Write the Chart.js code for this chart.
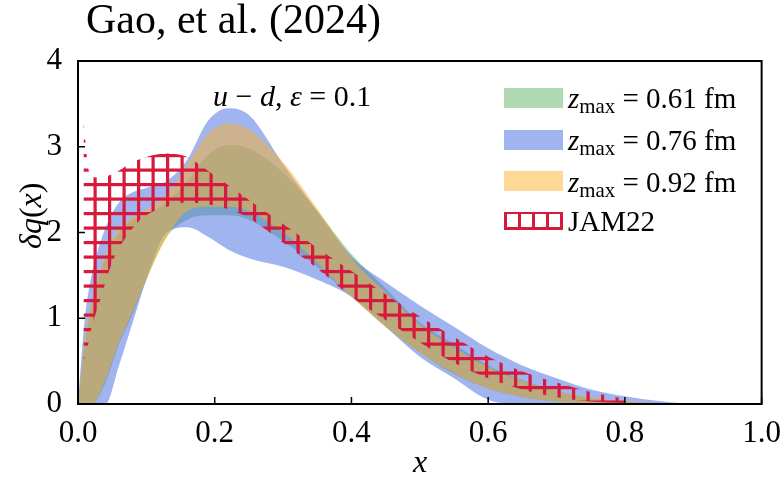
<!DOCTYPE html>
<html>
<head>
<meta charset="utf-8">
<script src="https://cdn.jsdelivr.net/npm/chart.js@4.4.1/dist/chart.umd.min.js"></script>
<style>
    body { margin: 0; background: #fff; }
    #wrap { position: relative; width: 784px; height: 477px; font-family: "Liberation Serif", "Times New Roman", serif; color: #000; }
    #wrap canvas { position: absolute; left: 0; top: 0; }
    .txt { position: absolute; white-space: nowrap; line-height: 1; }
    .sw { position: absolute; left: 504px; width: 59px; height: 20px; }
    sub { font-size: 0.72em; vertical-align: -0.25em; font-style: normal; line-height: 0; }
</style>
</head>
<body>
<div id="wrap">
    <canvas id="pdfChart" width="784" height="477"></canvas>
    <div class="txt" style="left:86px; top:-2px; font-size:42px;">Gao, et al. (2024)</div>
    <div class="txt" style="left:213px; top:81px; font-size:30px;"><i>u</i> − <i>d</i>, <i>ε</i> = 0.1</div>
    <div class="txt" style="left:14px; top:233px; font-size:32px; transform: translate(0,-50%) rotate(-90deg); transform-origin: 16px 50%;"><i>δq</i>(<i>x</i>)</div>
    <div class="txt" style="left:413px; top:445px; font-size:32px;"><i>x</i></div>

    <div class="sw" style="top:88px; background: rgba(100,180,100,0.5);"></div>
    <div class="sw" style="top:130px; background: rgba(65,105,225,0.5);"></div>
    <div class="sw" style="top:171px; background: rgba(251,177,45,0.5);"></div>
    <div class="sw" style="top:212px; height:13px; border-top:2px solid #d7193c; border-bottom:3px solid #d7193c;
        background: repeating-linear-gradient(90deg, #d7193c 0 3px, transparent 3px 14px);"></div>
    <div class="txt" style="left:568px; top:84px; font-size:29px;"><i>z</i><sub>max</sub> = 0.61 fm</div>
    <div class="txt" style="left:568px; top:126px; font-size:29px;"><i>z</i><sub>max</sub> = 0.76 fm</div>
    <div class="txt" style="left:568px; top:168px; font-size:29px;"><i>z</i><sub>max</sub> = 0.92 fm</div>
    <div class="txt" style="left:568px; top:207px; font-size:29px;">JAM22</div>
</div>
<script>
// x grid shared by the three lattice bands
const xBand = [0, 0.01, 0.02, 0.04, 0.06, 0.08, 0.1, 0.13, 0.16, 0.19, 0.22, 0.25, 0.3, 0.35, 0.4, 0.45, 0.5, 0.55, 0.6, 0.65, 0.7, 0.75, 0.8, 0.85, 0.9, 1.0];

// z_max = 0.61 fm (green)
const green_lo = [0, 0, 0, 0.25, 0.7, 1.05, 1.45, 1.95, 2.15, 2.2, 2.2, 2.15, 1.9, 1.6, 1.25, 0.9, 0.6, 0.35, 0.18, 0.08, 0.03, 0.01, 0, 0, 0, 0];
const green_hi = [0, 0.7, 1.15, 1.7, 2.0, 2.15, 2.22, 2.35, 2.6, 2.9, 3.02, 2.98, 2.7, 2.25, 1.75, 1.35, 0.95, 0.7, 0.45, 0.28, 0.15, 0.07, 0.03, 0.01, 0, 0];

// z_max = 0.76 fm (blue)
const blue_lo = [0, 0, 0, 0, 0.45, 0.95, 1.45, 2.0, 2.06, 1.95, 1.8, 1.7, 1.6, 1.45, 1.25, 0.9, 0.55, 0.3, 0.05, 0, 0, 0, 0, 0, 0, 0];
const blue_hi = [0, 1.0, 1.5, 2.05, 2.35, 2.47, 2.52, 2.6, 2.85, 3.3, 3.45, 3.37, 2.8, 2.25, 1.72, 1.42, 1.15, 0.9, 0.65, 0.45, 0.3, 0.17, 0.09, 0.035, 0.005, 0];

// z_max = 0.92 fm (orange)
const orange_lo = [0, 0, 0, 0.28, 0.72, 1.08, 1.45, 1.95, 2.25, 2.3, 2.3, 2.25, 2.0, 1.65, 1.25, 0.9, 0.6, 0.36, 0.18, 0.08, 0.03, 0.01, 0, 0, 0, 0];
const orange_hi = [0, 0.75, 1.2, 1.75, 2.05, 2.18, 2.27, 2.45, 2.8, 3.15, 3.27, 3.2, 2.82, 2.28, 1.7, 1.3, 0.92, 0.66, 0.43, 0.27, 0.15, 0.08, 0.035, 0.01, 0, 0];

// JAM22 (red hatch)
const xJam = [0.008, 0.015, 0.02, 0.03, 0.05, 0.08, 0.1, 0.13, 0.16, 0.19, 0.22, 0.25, 0.3, 0.35, 0.4, 0.45, 0.5, 0.55, 0.6, 0.65, 0.7, 0.75, 0.8];
const jam_lo = [0.5, 0.7, 0.9, 1.15, 1.65, 2.05, 2.2, 2.3, 2.35, 2.33, 2.27, 2.17, 1.88, 1.58, 1.25, 0.98, 0.72, 0.48, 0.3, 0.17, 0.08, 0.03, 0.01];
const jam_hi = [3.3, 2.75, 2.66, 2.64, 2.68, 2.82, 2.88, 2.92, 2.88, 2.72, 2.55, 2.38, 2.1, 1.82, 1.55, 1.28, 1.02, 0.78, 0.55, 0.38, 0.25, 0.14, 0.06];

const xTicks = [0, 0.2, 0.4, 0.6, 0.8, 1.0];
const yTicks = [0, 1, 2, 3, 4];

const RED = '#d7193c';

function pts(xs, ys) {
    return xs.map((x, i) => ({ x: x, y: ys[i] }));
}

function hatchPattern() {
    const c = document.createElement('canvas');
    c.width = 29; c.height = 29;
    const g = c.getContext('2d');
    g.fillStyle = RED;
    // vertical lines
    g.fillRect(6.5, 0, 3.2, 29);
    g.fillRect(21, 0, 3.2, 29);
    // horizontal lines
    g.fillRect(0, 9, 29, 3.2);
    g.fillRect(0, 23.5, 29, 3.2);
    return g.createPattern(c, 'repeat');
}

function band(xs, lo, hi, color, order) {
    const common = {
        pointRadius: 0,
        borderWidth: 0,
        borderColor: 'transparent',
        cubicInterpolationMode: 'monotone',
        order: order
    };
    return [
        Object.assign({ data: pts(xs, lo), fill: false }, common),
        Object.assign({ data: pts(xs, hi), fill: '-1', backgroundColor: color }, common)
    ];
}

const tickPlugin = {
    id: 'frameTicks',
    afterDatasetsDraw(chart) {
        const ctx = chart.ctx;
        const a = chart.chartArea;
        const xs = chart.scales.x, ys = chart.scales.y;
        ctx.save();
        ctx.strokeStyle = '#000';
        ctx.lineWidth = 1.5;
        ctx.beginPath();
        xTicks.forEach(v => {
            const px = xs.getPixelForValue(v);
            ctx.moveTo(px, a.bottom);
            ctx.lineTo(px, a.bottom - 7);
        });
        yTicks.forEach(v => {
            const py = ys.getPixelForValue(v);
            ctx.moveTo(a.left, py);
            ctx.lineTo(a.left + 7, py);
        });
        ctx.stroke();
        ctx.lineWidth = 2;
        ctx.strokeRect(a.left, a.top, a.right - a.left, a.bottom - a.top);
        ctx.restore();
    }
};

const datasets = [].concat(
    band(xJam, jam_lo, jam_hi, hatchPattern(), 0),
    band(xBand, orange_lo, orange_hi, 'rgba(251,177,45,0.5)', 1),
    band(xBand, blue_lo, blue_hi, 'rgba(65,105,225,0.5)', 2),
    band(xBand, green_lo, green_hi, 'rgba(100,180,100,0.5)', 3)
);

const tickFont = { family: '"Liberation Serif", "Times New Roman", serif', size: 31 };

new Chart(document.getElementById('pdfChart'), {
    type: 'line',
    data: { datasets: datasets },
    options: {
        responsive: false,
        animation: false,
        layout: { padding: { left: 0, right: 21, top: 61, bottom: 0 } },
        plugins: {
            legend: { display: false },
            tooltip: { enabled: false },
            filler: { propagate: false }
        },
        scales: {
            x: {
                type: 'linear',
                min: 0, max: 1,
                afterFit(scale) { scale.height = 73; },
                afterBuildTicks(scale) { scale.ticks = xTicks.map(v => ({ value: v })); },
                ticks: {
                    font: tickFont, color: '#000', padding: 3, maxRotation: 0,
                    callback: v => v.toFixed(1)
                },
                grid: { display: false },
                border: { display: false }
            },
            y: {
                min: 0, max: 4,
                afterFit(scale) { scale.width = 78; },
                afterBuildTicks(scale) { scale.ticks = yTicks.map(v => ({ value: v })); },
                ticks: { font: tickFont, color: '#000', padding: 8 },
                grid: { display: false },
                border: { display: false }
            }
        }
    },
    plugins: [tickPlugin]
});
</script>
</body>
</html>
